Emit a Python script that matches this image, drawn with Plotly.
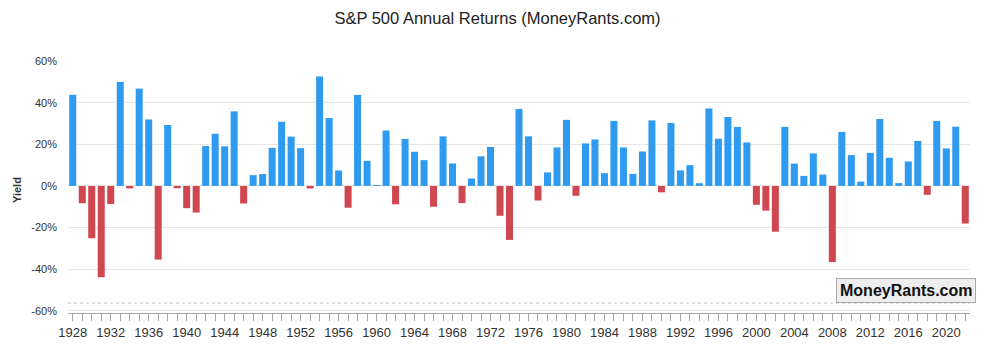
import plotly.graph_objects as go

years = list(range(1928, 2023))
returns = [
    43.81, -8.30, -25.12, -43.84, -8.64, 49.98, -1.19, 46.74, 31.94, -35.34,
    29.28, -1.10, -10.67, -12.77, 19.17, 25.06, 19.03, 35.82, -8.43, 5.20,
    5.70, 18.30, 30.81, 23.68, 18.15, -1.21, 52.56, 32.60, 7.44, -10.46,
    43.72, 12.06, 0.34, 26.64, -8.81, 22.61, 16.42, 12.40, -9.97, 23.80,
    10.81, -8.24, 3.56, 14.22, 18.76, -14.31, -25.90, 37.00, 23.83, -6.98,
    6.51, 18.52, 31.74, -4.70, 20.42, 22.34, 6.15, 31.24, 18.49, 5.81,
    16.54, 31.48, -3.06, 30.23, 7.49, 9.97, 1.33, 37.20, 22.68, 33.10,
    28.34, 20.89, -9.03, -11.85, -21.97, 28.36, 10.74, 4.83, 15.61, 5.48,
    -36.55, 25.94, 14.82, 2.10, 15.89, 32.15, 13.52, 1.38, 11.77, 21.61,
    -4.23, 31.21, 18.02, 28.47, -18.04,
]
y_ticks = [-60, -40, -20, 0, 20, 40, 60]
y_tick_labels = ["-60%", "-40%", "-20%", "0%", "20%", "40%", "60%"]

POS = "#2F9BF0"
NEG = "#D1474F"
colors = [POS if v >= 0 else NEG for v in returns]

fig = go.Figure(go.Bar(
    x=years, y=returns, marker=dict(color=colors, line=dict(width=0)),
    hovertemplate="%{x}: %{y:.2f}%<extra></extra>",
))

FONT = "Liberation Sans, Arial, sans-serif"
W, H = 979, 347          # page has an 8px body margin
PLOT_TOP, PLOT_BOTTOM = 53, 305
PLOT_H = PLOT_BOTTOM - PLOT_TOP
AXIS_GRAY = "#a8a8a8"

fig.update_layout(
    width=W, height=H,
    margin=dict(l=60, r=17, t=PLOT_TOP, b=H - PLOT_BOTTOM),
    plot_bgcolor="white", paper_bgcolor="white",
    bargap=0.26,
    showlegend=False,
    font=dict(family=FONT, color="#333"),
    title=dict(text="S&P 500 Annual Returns (MoneyRants.com)", x=0.5, xanchor="center",
               y=1 - 10 / H, yanchor="middle", font=dict(size=16.5, color="#222", family=FONT)),
    xaxis=dict(
        type="linear",
        range=[1927.5, 2022.5],
        tickmode="linear", tick0=1928, dtick=4,
        ticks="outside", ticklen=7, tickcolor=AXIS_GRAY, tickwidth=1,
        minor=dict(dtick=1, tick0=1928, ticks="outside", ticklen=7,
                   tickcolor=AXIS_GRAY, tickwidth=1, showgrid=False),
        showline=True, linecolor=AXIS_GRAY, linewidth=1,
        showgrid=False, zeroline=False,
        tickfont=dict(size=13, color="#333", family=FONT),
    ),
    yaxis=dict(
        range=[-61, 60], tickmode="array", tickvals=y_ticks, ticktext=y_tick_labels,
        showgrid=True, gridcolor="#e6e6e6", gridwidth=1, zeroline=False,
        tickfont=dict(size=11, color="#333", family=FONT),
        ticks="", ticklabelstandoff=10, automargin=False,
    ),
    shapes=[dict(type="line", xref="paper", yref="paper", x0=0, x1=1,
                 y0=10 / PLOT_H, y1=10 / PLOT_H,
                 line=dict(color="#bbb", width=1, dash="dot"))],
    annotations=[
        dict(text="<b>Yield</b>", xref="paper", yref="paper", x=0, xshift=-51,
             y=123 / PLOT_H, xanchor="center", yanchor="middle", textangle=-90,
             showarrow=False, font=dict(size=11, color="#333", family=FONT)),
        dict(text="<b>MoneyRants.com</b>", xref="paper", yref="paper",
             x=1, xshift=6, xanchor="right", y=22.5 / PLOT_H, yanchor="middle",
             showarrow=False, bgcolor="#eeeeee", bordercolor="#aaa", borderwidth=1,
             borderpad=3, font=dict(size=16, color="#111", family=FONT)),
    ],
)

fig.write_html("out.html")
